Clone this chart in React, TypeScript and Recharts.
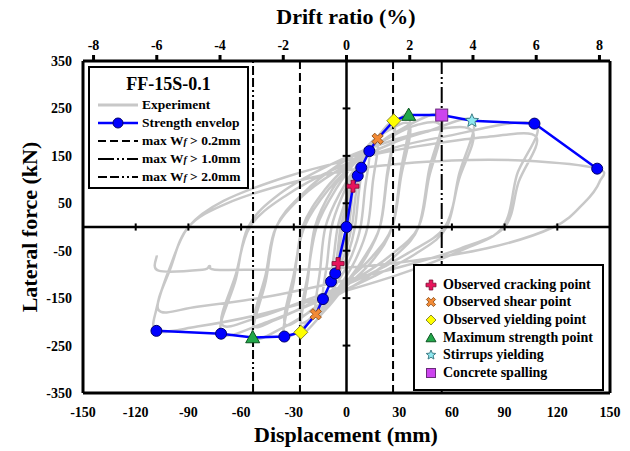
import React from 'react';
import { ComposedChart, XAxis, YAxis, Line, Scatter, ReferenceLine } from 'recharts';

const FONT = "'Times New Roman', 'Liberation Serif', serif";

// axis ticks
const dispTicks = [-150, -120, -90, -60, -30, 0, 30, 60, 90, 120, 150];
const forceTicks = [-350, -250, -150, -50, 50, 150, 250, 350];
const driftTicks = [-8, -6, -4, -2, 0, 2, 4, 6, 8];
const zeroXTicks = [-120, -90, -60, -30, 30, 60, 90, 120];
const zeroYTicks = [-250, -150, -50, 50, 150, 250];
const COLUMN_HEIGHT_MM = 1800;
const DRIFT_LIMIT = 150 / (COLUMN_HEIGHT_MM / 100);

// strength envelope (displacement mm, force kN)
const envDisp = [-108.2, -71.4, -53.4, -35.4, -26, -17.5, -13.4, -8.8, -6.4, -4.8, 0, 3.7, 6.4, 8.4, 13, 17.7, 26.9, 35.4, 54.2, 71.4, 107, 142.7];
const envForce = [-219, -225, -233, -231, -222, -184, -152, -115, -98, -77, 0, 86, 108, 125, 160, 186, 224, 236, 236, 224, 218, 123];

// special points
const crackPts = [[3.7, 86], [-4.8, -77]];
const shearPts = [[17.7, 186], [-17.5, -184]];
const yieldPts = [[26.9, 224], [-26, -222]];
const maxPts = [[35.4, 236], [-53.4, -233]];
const stirrupPts = [[71.4, 224]];
const spallPts = [[54.2, 236]];
const circlePts = [[-108.2, -219], [-71.4, -225], [-35.4, -231], [-13.4, -152], [-8.8, -115], [-6.4, -98], [0, 0], [6.4, 108], [8.4, 125], [13, 160], [107, 218], [142.7, 123]];

// crack-width limit lines
const wf02 = [26.5, -26.5];
const wf10 = [54.2];
const wf20 = [-53.2];

const cycle1 = [[0, 0], [1.5, 45], [3.7, 86], [2.6, 40], [1.2, 0], [-1, -35], [-4.8, -77], [-3.6, -35], [-2.2, 0], [0, 35], [2.5, 70]];
const cycle2 = [[6.4, 108], [4.8, 55], [3.2, 5], [0, -45], [-3, -75], [-6.4, -98], [-5, -50], [-3.3, 0], [0, 45], [4, 95]];
const cycle3 = [[8.4, 125], [6.6, 60], [4.8, 0], [1, -55], [-4, -95], [-8.8, -115], [-7, -55], [-5, 0], [-1, 50], [4, 100]];
const cycle4 = [[13, 160], [10.5, 80], [8, 0], [3, -60], [-4, -110], [-13.4, -152], [-11, -75], [-8.5, 0], [-3, 60], [5, 120]];
const cycle5 = [[17.7, 186], [15, 95], [12, 0], [5, -70], [-5, -130], [-17.5, -184], [-15, -90], [-12, 0], [-4, 70], [8, 140]];
const cycle6 = [[27, 224], [23, 110], [19, 0], [10, -70], [0, -120], [-12, -175], [-26, -222], [-22, -110], [-18, 0], [-8, 80], [5, 140], [16, 185],
  [27, 205], [23, 100], [19, 0], [9, -70], [-2, -125], [-14, -170], [-26, -200], [-22, -100], [-17, 0], [-6, 80], [8, 150], [22, 200]];
const cycle7 = [[36, 236], [31, 120], [26, 0], [15, -70], [0, -125], [-15, -180], [-35.4, -231], [-30, -115], [-25, 0], [-12, 80], [5, 145], [20, 195],
  [36, 215], [31, 105], [26, 0], [14, -65], [-2, -120], [-18, -170], [-35, -205], [-30, -100], [-24, 0], [-10, 80], [8, 145], [28, 200]];
const cycle8 = [[54, 236], [47, 120], [41, 0], [28, -60], [10, -110], [-15, -165], [-35, -210], [-53.4, -232], [-46, -115], [-40, 0], [-25, 70], [-5, 130], [20, 180], [40, 215],
  [54, 210], [47, 105], [41, 0], [25, -60], [5, -110], [-20, -160], [-40, -195], [-53, -205], [-46, -100], [-40, 0], [-22, 75], [0, 130], [25, 175], [45, 200]];
const cycle9 = [[72, 224], [64, 110], [57, 0], [40, -55], [15, -105], [-15, -155], [-45, -200], [-71.4, -225], [-63, -110], [-56, 0], [-38, 70], [-10, 130], [20, 175], [50, 205],
  [72, 200], [64, 100], [56, 0], [35, -55], [10, -105], [-20, -150], [-50, -190], [-71, -205], [-63, -100], [-55, 0], [-35, 65], [-5, 125], [25, 165], [55, 190]];
const cycle10 = [[107, 218], [97, 110], [89, 0], [65, -50], [30, -100], [-10, -145], [-50, -185], [-85, -210], [-108, -219], [-108, -170], [-100, -80], [-90, 0], [-70, 55], [-35, 105], [0, 140], [40, 170], [80, 190],
  [108, 190], [98, 95], [90, 0], [65, -45], [30, -85], [-10, -120], [-50, -150], [-85, -168], [-107, -175], [-100, -85], [-90, 0], [-68, 50], [-30, 95], [10, 125], [60, 140], [100, 140]];
const cycle11 = [[142.7, 123], [144, 95], [135, 50], [118, 0], [80, -45], [30, -75], [-10, -88], [-50, -90], [-75, -90], [-78, -82], [-82, -90], [-107, -92], [-108, -60]];

const experiment = [...cycle1, ...cycle2, ...cycle3, ...cycle4, ...cycle5, ...cycle6, ...cycle7, ...cycle8, ...cycle9, ...cycle10, ...cycle11].map(([x, y]) => ({ x, y }));
const envelope = envDisp.map((x, i) => ({ x, y: envForce[i] }));
const driftAnchor = [{ d: -DRIFT_LIMIT, y: 0 }, { d: DRIFT_LIMIT, y: 0 }];
const toPts = (a: number[][]) => a.map(([x, y]) => ({ x, y }));

const DASH_02 = '8 4';
const DASH_10 = '16 3 2 3 2 3';
const DASH_20 = '9 3 9 3 2 3 2 3';

// smooth curve through the points (Catmull-Rom), usable as a Recharts curve type
function smoothCurve(context: any) {
  let pts: number[][] = [];
  return {
    areaStart() {},
    areaEnd() {},
    lineStart() { pts = []; },
    point(x: number, y: number) { pts.push([x, y]); },
    lineEnd() {
      if (!pts.length) return;
      context.moveTo(pts[0][0], pts[0][1]);
      for (let i = 0; i < pts.length - 1; i++) {
        const p0 = pts[i - 1] || pts[i];
        const p1 = pts[i];
        const p2 = pts[i + 1];
        const p3 = pts[i + 2] || p2;
        const k = 1 / 6;
        context.bezierCurveTo(
          p1[0] + (p2[0] - p0[0]) * k, p1[1] + (p2[1] - p0[1]) * k,
          p2[0] - (p3[0] - p1[0]) * k, p2[1] - (p3[1] - p1[1]) * k,
          p2[0], p2[1],
        );
      }
    },
  };
}

function Circle({ cx, cy, r = 5.5 }: any) {
  return <circle cx={cx} cy={cy} r={r} fill="#0000ff" stroke="#00006a" strokeWidth={1} />;
}
function plusPath(cx: number, cy: number, s: number, w: number) {
  return `M${cx - w},${cy - s}H${cx + w}V${cy - w}H${cx + s}V${cy + w}H${cx + w}V${cy + s}H${cx - w}V${cy + w}H${cx - s}V${cy - w}H${cx - w}Z`;
}
function Plus({ cx, cy, s = 6, w = 2 }: any) {
  return <path d={plusPath(cx, cy, s, w)} fill="#e8145c" stroke="#7a0a30" strokeWidth={0.8} />;
}
function Cross({ cx, cy, s = 6, w = 2 }: any) {
  return <path d={plusPath(cx, cy, s, w)} fill="#f28a36" stroke="#8a4a10" strokeWidth={0.8} transform={`rotate(45 ${cx} ${cy})`} />;
}
function Diamond({ cx, cy, s = 7 }: any) {
  return <path d={`M${cx},${cy - s}L${cx + s},${cy}L${cx},${cy + s}L${cx - s},${cy}Z`} fill="#ffff00" stroke="#8a8a30" strokeWidth={1} />;
}
function Triangle({ cx, cy, s = 7 }: any) {
  return <path d={`M${cx},${cy - s}L${cx + s},${cy + s * 0.75}L${cx - s},${cy + s * 0.75}Z`} fill="#22a84a" stroke="#0d5522" strokeWidth={1} />;
}
function Square({ cx, cy, s = 6 }: any) {
  return <rect x={cx - s} y={cy - s} width={2 * s} height={2 * s} fill="#cc44ee" stroke="#6a2a7a" strokeWidth={1} />;
}
function Star({ cx, cy, s = 7 }: any) {
  const pts: string[] = [];
  for (let i = 0; i < 10; i++) {
    const r = i % 2 === 0 ? s : s * 0.45;
    const a = -Math.PI / 2 + (i * Math.PI) / 5;
    pts.push(`${cx + r * Math.cos(a)},${cy + r * Math.sin(a)}`);
  }
  return <polygon points={pts.join(' ')} fill="#8fe8f0" stroke="#3f7f88" strokeWidth={1} />;
}

const tickStyle = { fill: '#000', fontSize: 14, fontWeight: 'bold', fontFamily: FONT };

function LineSwatch({ dash, color = '#000', width = 2, children }: any) {
  return (
    <svg width={40} height={12} style={{ display: 'block' }}>
      <line x1={0} y1={6} x2={40} y2={6} stroke={color} strokeWidth={width} strokeDasharray={dash} />
      {children}
    </svg>
  );
}

function Wf({ v }: { v: string }) {
  return (
    <span>max W<span style={{ fontStyle: 'italic', fontSize: 10 }}>f</span> &gt; {v}</span>
  );
}

export default function App() {
  const rowStyle: React.CSSProperties = { display: 'flex', alignItems: 'center', height: 18 };
  const txt: React.CSSProperties = { fontFamily: FONT, fontWeight: 'bold', fontSize: 13.5, color: '#000', whiteSpace: 'nowrap' };
  const title: React.CSSProperties = { position: 'absolute', fontFamily: FONT, fontWeight: 'bold', fontSize: 22, whiteSpace: 'nowrap', lineHeight: '24px' };
  return (
    <div style={{ position: 'absolute', left: 0, top: 0, width: 630, height: 451, background: '#fff' }}>
      <ComposedChart width={630} height={451} margin={{ top: 31, right: 10, bottom: 18, left: 0 }}>
        <XAxis xAxisId="b" dataKey="x" type="number" domain={[-150, 150]} ticks={dispTicks} allowDataOverflow
          axisLine={{ stroke: '#000', strokeWidth: 3 }} tickLine={false} tick={tickStyle} tickMargin={8} height={40} interval={0} />
        <XAxis xAxisId="t" dataKey="d" orientation="top" type="number" domain={[-DRIFT_LIMIT, DRIFT_LIMIT]} ticks={driftTicks} allowDataOverflow
          axisLine={{ stroke: '#000', strokeWidth: 3 }} tickLine={{ stroke: '#000', strokeWidth: 3 }} tickSize={6} tick={tickStyle} tickMargin={5} height={30} interval={0} />
        <YAxis yAxisId="l" dataKey="y" type="number" domain={[-350, 350]} ticks={forceTicks} allowDataOverflow
          axisLine={{ stroke: '#000', strokeWidth: 3 }} tickLine={false} tick={tickStyle} tickMargin={5} width={83} interval={0} />
        <YAxis yAxisId="r" orientation="right" type="number" domain={[-350, 350]} ticks={forceTicks} allowDataOverflow
          axisLine={{ stroke: '#000', strokeWidth: 3 }} tickLine={false} tick={false} width={10} />

        <Line xAxisId="t" yAxisId="l" data={driftAnchor} dataKey="y" stroke="none" dot={false} isAnimationActive={false} legendType="none" />
        <Line xAxisId="b" yAxisId="l" data={experiment} dataKey="y" type={smoothCurve as any} stroke="#c8c8c8" strokeWidth={2.5} dot={false} isAnimationActive={false} strokeLinejoin="round" />

        <ReferenceLine xAxisId="b" yAxisId="l" x={0} stroke="#000" strokeWidth={2.5} />
        <ReferenceLine xAxisId="b" yAxisId="l" y={0} stroke="#000" strokeWidth={2.5} />
        {zeroXTicks.map((t) => (
          <ReferenceLine key={'zx' + t} xAxisId="b" yAxisId="l" segment={[{ x: t, y: -7.5 }, { x: t, y: 7.5 }]} stroke="#000" strokeWidth={2} />
        ))}
        {zeroYTicks.map((t) => (
          <ReferenceLine key={'zy' + t} xAxisId="b" yAxisId="l" segment={[{ x: -2.2, y: t }, { x: 2.2, y: t }]} stroke="#000" strokeWidth={2} />
        ))}
        {wf02.map((v) => (
          <ReferenceLine key={'w02' + v} xAxisId="b" yAxisId="l" x={v} stroke="#000" strokeWidth={2} strokeDasharray={DASH_02} />
        ))}
        {wf10.map((v) => (
          <ReferenceLine key={'w10' + v} xAxisId="b" yAxisId="l" x={v} stroke="#000" strokeWidth={2} strokeDasharray={DASH_10} />
        ))}
        {wf20.map((v) => (
          <ReferenceLine key={'w20' + v} xAxisId="b" yAxisId="l" x={v} stroke="#000" strokeWidth={2} strokeDasharray={DASH_20} />
        ))}

        <Line xAxisId="b" yAxisId="l" data={envelope} dataKey="y" type="linear" stroke="#0000ff" strokeWidth={2.5} dot={false} isAnimationActive={false} />
        <Scatter xAxisId="b" yAxisId="l" data={toPts(circlePts)} dataKey="y" isAnimationActive={false} shape={(p: any) => <Circle cx={p.cx} cy={p.cy} />} />
        <Scatter xAxisId="b" yAxisId="l" data={toPts(crackPts)} dataKey="y" isAnimationActive={false} shape={(p: any) => <Plus cx={p.cx} cy={p.cy} />} />
        <Scatter xAxisId="b" yAxisId="l" data={toPts(shearPts)} dataKey="y" isAnimationActive={false} shape={(p: any) => <Cross cx={p.cx} cy={p.cy} />} />
        <Scatter xAxisId="b" yAxisId="l" data={toPts(yieldPts)} dataKey="y" isAnimationActive={false} shape={(p: any) => <Diamond cx={p.cx} cy={p.cy} />} />
        <Scatter xAxisId="b" yAxisId="l" data={toPts(maxPts)} dataKey="y" isAnimationActive={false} shape={(p: any) => <Triangle cx={p.cx} cy={p.cy} />} />
        <Scatter xAxisId="b" yAxisId="l" data={toPts(spallPts)} dataKey="y" isAnimationActive={false} shape={(p: any) => <Square cx={p.cx} cy={p.cy} />} />
        <Scatter xAxisId="b" yAxisId="l" data={toPts(stirrupPts)} dataKey="y" isAnimationActive={false} shape={(p: any) => <Star cx={p.cx} cy={p.cy} />} />
      </ComposedChart>

      {/* axis titles */}
      <div style={{ ...title, left: 0, width: 692, top: 5, textAlign: 'center' }}>Drift ratio (%)</div>
      <div style={{ ...title, left: 0, width: 692, top: 423, textAlign: 'center' }}>Displacement (mm)</div>
      <div style={{ ...title, left: 30, top: 227, transform: 'translate(-50%, -50%) rotate(-90deg)' }}>Lateral force (kN)</div>

      {/* legend 1 */}
      <div style={{ position: 'absolute', left: 88, top: 66, width: 161, height: 123, border: '2px solid #000', background: '#fff', boxSizing: 'border-box', padding: '6px 0 0 8px' }}>
        <div style={{ fontFamily: FONT, fontWeight: 'bold', fontSize: 18, textAlign: 'center', marginLeft: -8, lineHeight: '20px', height: 22 }}>FF-15S-0.1</div>
        <div style={rowStyle}><LineSwatch color="#c8c8c8" width={3} /><span style={{ ...txt, marginLeft: 4 }}>Experiment</span></div>
        <div style={rowStyle}><LineSwatch color="#0000ff" width={2.5}><circle cx={20} cy={6} r={5} fill="#0000ff" stroke="#00006a" /></LineSwatch><span style={{ ...txt, marginLeft: 4 }}>Strength envelop</span></div>
        <div style={rowStyle}><LineSwatch dash={DASH_02} /><span style={{ ...txt, marginLeft: 4 }}><Wf v="0.2mm" /></span></div>
        <div style={rowStyle}><LineSwatch dash={DASH_10} /><span style={{ ...txt, marginLeft: 4 }}><Wf v="1.0mm" /></span></div>
        <div style={rowStyle}><LineSwatch dash={DASH_20} /><span style={{ ...txt, marginLeft: 4 }}><Wf v="2.0mm" /></span></div>
      </div>

      {/* legend 2 */}
      <div style={{ position: 'absolute', left: 413, top: 264, width: 191, height: 127, border: '2px solid #000', background: '#fff', boxSizing: 'border-box', padding: '10px 0 0 8px' }}>
        {[
          ['Observed cracking point', (c: number) => <Plus cx={c} cy={8} s={5} w={1.8} />],
          ['Observed shear point', (c: number) => <Cross cx={c} cy={8} s={5} w={1.5} />],
          ['Observed yielding point', (c: number) => <Diamond cx={c} cy={8} s={5} />],
          ['Maximum strength point', (c: number) => <Triangle cx={c} cy={8} s={5} />],
          ['Stirrups yielding', (c: number) => <Star cx={c} cy={8} s={5} />],
          ['Concrete spalling', (c: number) => <Square cx={c} cy={8} s={4.5} />],
        ].map(([label, m]: any) => (
          <div key={label} style={{ display: 'flex', alignItems: 'center', height: 17.6 }}>
            <svg width={16} height={16} style={{ display: 'block' }}>{m(8)}</svg>
            <span style={{ ...txt, fontSize: 14, marginLeft: 4 }}>{label}</span>
          </div>
        ))}
      </div>
    </div>
  );
}
